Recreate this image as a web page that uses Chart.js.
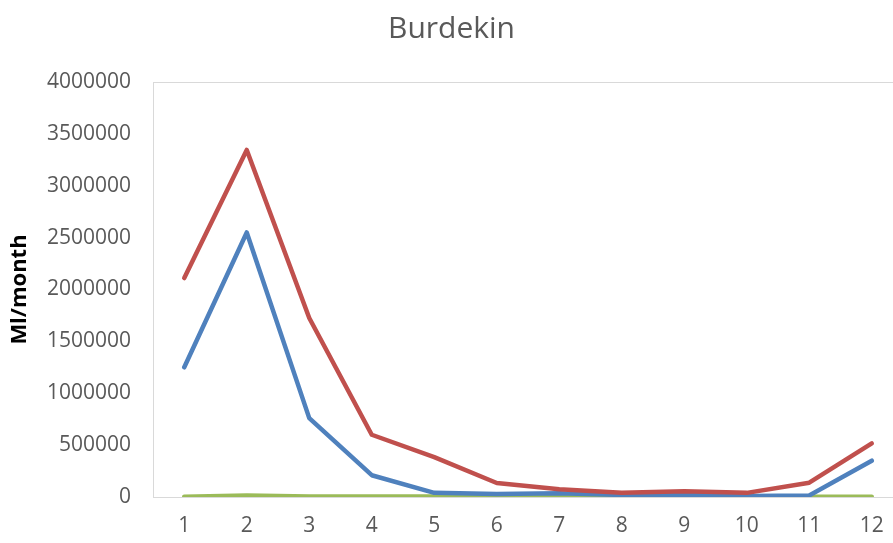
<!DOCTYPE html>
<html>
<head>
<meta charset="utf-8">
<title>Burdekin</title>
<script src="https://cdn.jsdelivr.net/npm/chart.js@4"></script>
<style>
  html, body { margin: 0; padding: 0; background: #ffffff; overflow: hidden; }
  #wrap { width: 893px; height: 543px; overflow: hidden; }
  canvas { display: block; }
</style>
</head>
<body>
<div id="wrap"><canvas id="chart" width="905" height="543"></canvas></div>
<script>
// Monthly flow volumes (Ml/month), month numbers 1..12
const months = ['1', '2', '3', '4', '5', '6', '7', '8', '9', '10', '11', '12'];
const series1 = [1250000, 2550000, 760000, 210000, 40000, 30000, 35000, 20000, 20000, 10000, 15000, 350000];
const series2 = [2110000, 3345000, 1725000, 600000, 385000, 135000, 75000, 40000, 55000, 40000, 138000, 517000];
const series3 = [3000, 14000, 5000, 4000, 4000, 3000, 5000, 3000, 3000, 2000, 3000, 3000];
const yTicks = { min: 0, max: 4000000, step: 500000 };

const textGrey = '#595959';
const font = 'Open Sans';

// Light frame around the plotting area
const frame = {
  id: 'frame',
  beforeDatasetsDraw(chart) {
    const a = chart.chartArea;
    const ctx = chart.ctx;
    ctx.save();
    ctx.strokeStyle = '#d9d9d9';
    ctx.lineWidth = 1;
    ctx.strokeRect(Math.round(a.left) + 0.5, Math.round(a.top) + 0.5,
                   Math.round(a.right - a.left), Math.round(a.bottom - a.top));
    ctx.restore();
  }
};

const line = (label, data, color) => ({
  label, data,
  borderColor: color,
  backgroundColor: color,
  borderWidth: 4.5,
  borderCapStyle: 'round',
  borderJoinStyle: 'round',
  pointRadius: 0,
  tension: 0,
  fill: false
});

new Chart(document.getElementById('chart'), {
  type: 'line',
  data: {
    labels: months,
    datasets: [
      line('Series2', series2, '#C0504D'),
      line('Series1', series1, '#4F81BD'),
      line('Series3', series3, '#9BBB59')
    ]
  },
  options: {
    responsive: false,
    animation: false,
    devicePixelRatio: 1,
    layout: { padding: { left: 0, right: 2, top: 0, bottom: 0 } },
    plugins: {
      legend: { display: false },
      tooltip: { enabled: false },
      title: {
        display: true,
        text: 'Burdekin',
        color: textGrey,
        font: { family: font, size: 30, weight: 'normal' },
        padding: { top: 11, bottom: 35 }
      }
    },
    scales: {
      x: {
        offset: true,
        grid: { display: false, drawTicks: false },
        border: { display: false },
        ticks: {
          color: textGrey,
          font: { family: font, size: 21 },
          padding: 16,
          maxRotation: 0,
          autoSkip: false
        },
        afterFit(s) { s.height = 46; }
      },
      y: {
        min: yTicks.min,
        max: yTicks.max,
        grid: { display: false, drawTicks: false },
        border: { display: false },
        ticks: {
          stepSize: yTicks.step,
          color: textGrey,
          font: { family: font, size: 21 },
          padding: 22,
          callback: v => String(v)
        },
        title: {
          display: true,
          text: 'Ml/month',
          color: '#000000',
          font: { family: font, size: 22, weight: 'bold' },
          padding: { top: 7, bottom: 0 }
        },
        afterFit(s) { s.width = 153; }
      }
    }
  },
  plugins: [frame]
});
</script>
</body>
</html>
